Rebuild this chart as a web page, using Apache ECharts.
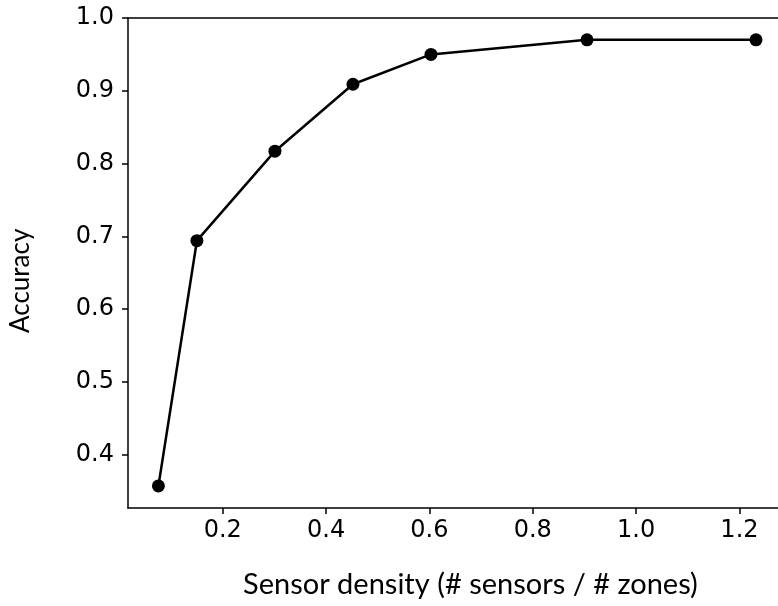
<!DOCTYPE html>
<html>
<head>
<meta charset="utf-8">
<script src="https://cdn.jsdelivr.net/npm/echarts@6/dist/echarts.min.js"></script>
<style>
html,body{margin:0;padding:0;background:#fff;}
#c{width:778px;height:606px;}
</style>
</head>
<body>
<div id="c"></div>
<script>
const densities = [0.0755, 0.150, 0.301, 0.452, 0.603, 0.905, 1.232];
const accuracies = [0.357, 0.694, 0.817, 0.909, 0.950, 0.970, 0.970];
const xTicks = [0.2, 0.4, 0.6, 0.8, 1.0, 1.2];
const yTicks = [0.4, 0.5, 0.6, 0.7, 0.8, 0.9, 1.0];
const xTitle = 'Sensor density (# sensors / # zones)';
const yTitle = 'Accuracy';

const chart = echarts.init(document.getElementById('c'), null, {renderer: 'canvas'});
const tickFont = {fontFamily: 'DejaVu Sans', fontSize: 24, color: '#000'};
const axisLineStyle = {color: '#000', width: 1.5};
chart.setOption({
  animation: false,
  backgroundColor: '#fff',
  grid: {left: 128, top: 18, right: 0, bottom: 98},
  xAxis: [{
    type: 'value', position: 'bottom', min: 0.01664, max: 1.2746,
    axisLine: {show: true, onZero: false, lineStyle: axisLineStyle},
    axisTick: {show: true, length: 6, inside: false, customValues: xTicks, lineStyle: axisLineStyle},
    axisLabel: {show: true, margin: 11, customValues: xTicks, formatter: v => v.toFixed(1), ...tickFont},
    splitLine: {show: false}
  }, {
    type: 'value', position: 'top', min: 0.01664, max: 1.2746,
    axisLine: {show: true, onZero: false, lineStyle: axisLineStyle},
    axisTick: {show: false}, axisLabel: {show: false}, splitLine: {show: false}
  }],
  yAxis: [{
    type: 'value', min: 0.3267, max: 1.0,
    axisLine: {show: true, onZero: false, lineStyle: axisLineStyle},
    axisTick: {show: true, length: 6, customValues: yTicks, lineStyle: axisLineStyle},
    axisLabel: {show: true, margin: 14, customValues: yTicks, formatter: v => v.toFixed(1), ...tickFont},
    splitLine: {show: false}
  }],
  graphic: [
    {type: 'text', top: 570, left: 243, style: {text: xTitle, fontFamily: 'Lato', fontSize: 29, fill: '#000'}},
    {type: 'text', rotation: Math.PI / 2, x: 8, y: 333, style: {text: yTitle, fontFamily: 'Lato', fontSize: 26, fill: '#000', textVerticalAlign: 'top'}}
  ],
  series: [{
    type: 'line',
    data: densities.map((d, i) => [d, accuracies[i]]),
    lineStyle: {color: '#000', width: 2.5},
    itemStyle: {color: '#000'},
    symbol: 'circle', symbolSize: 13,
    showAllSymbol: true,
    clip: false
  }]
});
</script>
</body>
</html>
